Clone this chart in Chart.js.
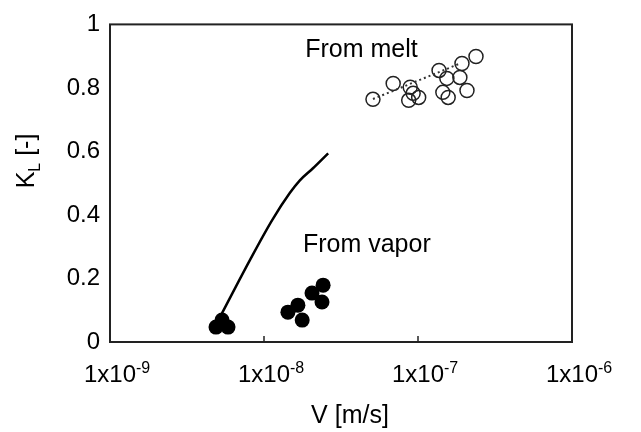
<!DOCTYPE html>
<html>
<head>
<meta charset="utf-8">
<script src="https://cdn.jsdelivr.net/npm/chart.js@4.4.0/dist/chart.umd.min.js"></script>
<style>
  body { margin: 0; background: #fff; }
</style>
</head>
<body>
<canvas id="Chart" width="641" height="432"></canvas>
<script>
  // data
  const meltV = [5.1e-8, 6.9e-8, 8.9e-8, 8.7e-8, 1.01e-7, 9.3e-8, 1.37e-7, 1.54e-7, 1.45e-7, 1.57e-7, 1.93e-7, 2.38e-7, 1.87e-7, 2.08e-7];
  const meltK = [0.764, 0.814, 0.802, 0.761, 0.770, 0.783, 0.855, 0.830, 0.786, 0.770, 0.877, 0.899, 0.833, 0.792];

  const trendV = [5.1e-8, 1.9e-7];
  const trendK = [0.765, 0.878];

  const vaporV = [4.88e-9, 5.84e-9, 5.34e-9, 1.43e-8, 1.66e-8, 1.77e-8, 2.05e-8, 2.42e-8, 2.38e-8];
  const vaporK = [0.047, 0.047, 0.069, 0.094, 0.116, 0.069, 0.154, 0.179, 0.126];

  const curveV = [5.26e-9, 8.1e-9, 1.13e-8, 1.47e-8, 1.71e-8, 2.08e-8, 2.61e-8];
  const curveK = [0.085, 0.258, 0.384, 0.469, 0.509, 0.547, 0.594];

  const xTicks = [1e-9, 1e-8, 1e-7, 1e-6];
  const xExp = ["-9", "-8", "-7", "-6"];
  const yTicks = [0, 0.2, 0.4, 0.6, 0.8, 1];

  const notes = [
    { text: "From melt", v: 1.85e-8, k: 0.918 },
    { text: "From vapor", v: 1.79e-8, k: 0.305 },
  ];

  const FONT = "Arial, 'Liberation Sans', sans-serif";

  function pts(xs, ys) {
    return xs.map((x, i) => ({ x: x, y: ys[i] }));
  }

  // frame, inner ticks, superscript tick labels, axis titles, notes
  const decor = {
    id: "decor",
    afterDraw(chart) {
      const c = chart.ctx;
      const a = chart.chartArea;
      const xs = chart.scales.x;
      const ys = chart.scales.y;
      c.save();
      c.strokeStyle = "#222";
      c.lineWidth = 2;
      c.strokeRect(a.left, a.top, a.right - a.left, a.bottom - a.top);

      c.lineWidth = 1.5;
      xTicks.forEach((v) => {
        const px = xs.getPixelForValue(v);
        if (px > a.left + 2 && px < a.right - 2) {
          c.beginPath();
          c.moveTo(px, a.bottom);
          c.lineTo(px, a.bottom - 6);
          c.stroke();
        }
      });

      c.fillStyle = "#000";
      c.textBaseline = "alphabetic";
      xTicks.forEach((v, i) => {
        const px = xs.getPixelForValue(v);
        c.font = "24px " + FONT;
        c.textAlign = "center";
        const base = "1x10";
        const w = c.measureText(base).width;
        c.fillText(base, px, a.bottom + 40);
        c.font = "16px " + FONT;
        c.textAlign = "left";
        c.fillText(xExp[i], px + w / 2, a.bottom + 31);
      });

      // x title
      c.font = "25px " + FONT;
      c.textAlign = "center";
      c.fillText("V [m/s]", 350, 423);

      // y title, rotated, with subscript L
      c.save();
      c.translate(34, 161);
      c.rotate(-Math.PI / 2);
      c.font = "25px " + FONT;
      const kW = c.measureText("K").width;
      c.font = "16px " + FONT;
      const lW = c.measureText("L").width;
      c.font = "25px " + FONT;
      const rest = " [-]";
      const rW = c.measureText(rest).width;
      let x0 = -(kW + lW + rW) / 2;
      c.textAlign = "left";
      c.fillText("K", x0, 0);
      c.font = "16px " + FONT;
      c.fillText("L", x0 + kW, 6);
      c.font = "25px " + FONT;
      c.fillText(rest, x0 + kW + lW, 0);
      c.restore();

      c.font = "25px " + FONT;
      c.textAlign = "left";
      c.textBaseline = "middle";
      notes.forEach((n) => {
        c.fillText(n.text, xs.getPixelForValue(n.v), ys.getPixelForValue(n.k));
      });
      c.restore();
    },
  };

  const ctx = document.getElementById("Chart").getContext("2d");

  const chart = new Chart(ctx, {
    type: "scatter",
    data: {
      datasets: [
        {
          label: "trend",
          type: "line",
          data: pts(trendV, trendK),
          borderColor: "#333",
          borderWidth: 2,
          borderDash: [2, 3],
          pointRadius: 0,
          fill: false,
        },
        {
          label: "From melt",
          data: pts(meltV, meltK),
          pointStyle: "circle",
          pointRadius: 7,
          borderColor: "#222",
          borderWidth: 1.5,
          backgroundColor: "rgba(255,255,255,0)",
        },
        {
          label: "curve",
          type: "line",
          data: pts(curveV, curveK),
          borderColor: "#000",
          borderWidth: 2.5,
          pointRadius: 0,
          cubicInterpolationMode: "monotone",
          fill: false,
        },
        {
          label: "From vapor",
          data: pts(vaporV, vaporK),
          pointStyle: "circle",
          pointRadius: 7.5,
          borderWidth: 0,
          backgroundColor: "#000",
        },
      ],
    },
    options: {
      responsive: false,
      animation: false,
      layout: { padding: { top: 24, right: 69, left: 0, bottom: 0 } },
      plugins: {
        legend: { display: false },
        tooltip: { enabled: false },
      },
      scales: {
        x: {
          type: "logarithmic",
          min: 1e-9,
          max: 1e-6,
          grid: { display: false },
          border: { display: false },
          ticks: { display: false },
          afterFit(scale) {
            scale.height = 90;
          },
        },
        y: {
          min: 0,
          max: 1,
          afterBuildTicks(scale) {
            scale.ticks = yTicks.map((v) => ({ value: v }));
          },
          grid: { display: false, drawTicks: false },
          border: { display: false },
          ticks: {
            color: "#000",
            padding: 10,
            font: { family: FONT, size: 24 },
            callback: (v) => String(v),
          },
          afterFit(scale) {
            scale.width = 110;
          },
        },
      },
    },
    plugins: [decor],
  });
</script>
</body>
</html>
